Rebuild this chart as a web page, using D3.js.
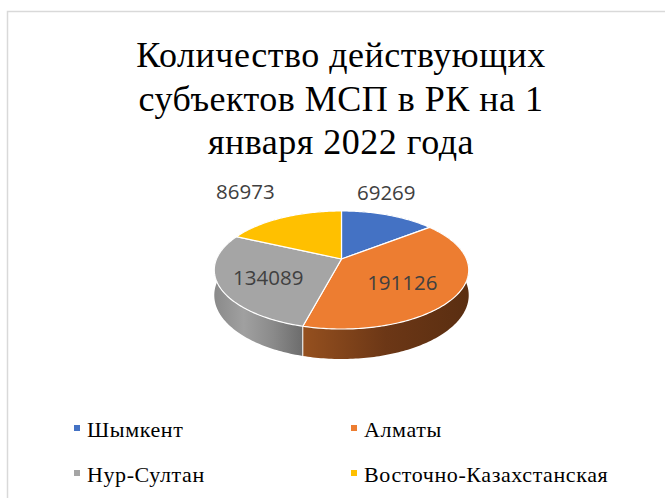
<!DOCTYPE html>
<html>
<head>
<meta charset="utf-8">
<script src="https://cdn.jsdelivr.net/npm/d3@7"></script>
<style>
  body { margin: 0; background: #fff; }
  #vis { width: 665px; height: 498px; }
</style>
</head>
<body>
<div id="vis"></div>
<script>
const titleLines = ["Количество действующих", "субъектов МСП в РК на 1", "января 2022 года"];
const categories = ["Шымкент", "Алматы", "Нур-Султан", "Восточно-Казахстанская"];
const values = [69269, 191126, 134089, 86973];
const colors = ["#4472c4", "#ed7d31", "#a5a5a5", "#ffc000"];
const sideStops = [
  ["#2f5597", "#203864"],
  ["#95501f", "#6c3716", "#5a2e11"],
  ["#8a8a8a", "#a0a0a0", "#8a8a8a", "#6c6c6c"],
  ["#bf9000", "#7f6000"]
];

const serif = "'Liberation Serif', Tinos, 'Times New Roman', 'DejaVu Serif', 'Noto Serif', serif";

const W = 665, H = 498;
const svg = d3.select("#vis").append("svg")
  .attr("width", W)
  .attr("height", H);

// frame
svg.append("rect")
  .attr("x", 7.5).attr("y", 11.5)
  .attr("width", W + 20).attr("height", H + 20)
  .attr("fill", "none")
  .attr("stroke", "#d9d9d9")
  .attr("stroke-width", 1.5);

// TITLE
svg.append("text")
  .attr("x", 341)
  .attr("y", 67)
  .attr("text-anchor", "middle")
  .style("font-family", serif)
  .style("font-size", "36px")
  .style("letter-spacing", "0.5px")
  .attr("fill", "#000")
  .selectAll("tspan")
  .data(titleLines)
  .enter()
  .append("tspan")
  .attr("x", 341)
  .attr("dy", (d, i) => i === 0 ? 0 : 43.5)
  .text(d => d);

// 3D PIE (perspective-projected disc)
const cx = 341.5, cy = 259, rx = 125, ry = 57, k = 0.186, depth = 24.4;

function project(theta, r, h) {
  const u = r * Math.sin(theta);
  const v = -r * Math.cos(theta);
  const s = 1 / (1 - k * v);
  return [cx + rx * u * s, cy + ry * v * s + h * depth * s];
}

function arcPoints(a0, a1, h) {
  const n = Math.max(2, Math.ceil((a1 - a0) / (Math.PI / 180)));
  return d3.range(n + 1).map(i => project(a0 + (a1 - a0) * i / n, 1, h));
}

const pie = d3.pie().sort(null).value(d => d)(values);
const defs = svg.append("defs");
const line = d3.line();

// side walls
const walls = svg.append("g");
pie.forEach((d, i) => {
  const top = arcPoints(d.startAngle, d.endAngle, 0);
  const bottom = arcPoints(d.startAngle, d.endAngle, 1).reverse();
  const pts = top.concat(bottom);
  const xs = d3.extent(pts, p => p[0]);
  const grad = defs.append("linearGradient")
    .attr("id", "side" + i)
    .attr("gradientUnits", "userSpaceOnUse")
    .attr("x1", xs[0]).attr("x2", xs[1])
    .attr("y1", 0).attr("y2", 0);
  sideStops[i].forEach((c, j, arr) => {
    grad.append("stop")
      .attr("offset", j / (arr.length - 1))
      .attr("stop-color", c);
  });
  walls.append("path")
    .attr("d", line(pts) + "Z")
    .attr("fill", `url(#side${i})`);
});

// wall separators
pie.forEach(d => {
  const a = project(d.startAngle, 1, 0);
  const b = project(d.startAngle, 1, 1);
  walls.append("line")
    .attr("x1", a[0]).attr("y1", a[1])
    .attr("x2", b[0]).attr("y2", b[1])
    .attr("stroke", "#fff")
    .attr("stroke-width", 1);
});

// top faces
svg.append("g")
  .selectAll("path")
  .data(pie)
  .enter()
  .append("path")
  .attr("d", d => line([[cx, cy]].concat(arcPoints(d.startAngle, d.endAngle, 0))) + "Z")
  .attr("fill", (d, i) => colors[i])
  .attr("stroke", "#fff")
  .attr("stroke-width", 1.2)
  .attr("stroke-linejoin", "round");

// DATA LABELS
const labelLayout = [
  { r: 1.0, dx: -2, dy: -15 },
  { r: 0.6, dx: -6, dy: 11 },
  { r: 0.6, dx: -2, dy: 11 },
  { r: 1.0, dx: -38, dy: -18 }
];

svg.append("g")
  .selectAll("text")
  .data(pie)
  .enter()
  .append("text")
  .attr("x", (d, i) => project((d.startAngle + d.endAngle) / 2, labelLayout[i].r, 0)[0] + labelLayout[i].dx)
  .attr("y", (d, i) => project((d.startAngle + d.endAngle) / 2, labelLayout[i].r, 0)[1] + labelLayout[i].dy)
  .attr("text-anchor", "middle")
  .style("font-family", "'Open Sans', sans-serif")
  .style("font-size", "20.5px")
  .attr("fill", "#404040")
  .text(d => d.data);

// LEGEND
const legend = svg.append("g");
categories.forEach((cat, i) => {
  const col = i % 2;
  const row = Math.floor(i / 2);
  const xOffset = col === 0 ? 74 : 351;
  const yOffset = 437 + row * 45;

  legend.append("rect")
    .attr("x", xOffset)
    .attr("y", yOffset - 12)
    .attr("width", 6)
    .attr("height", 6)
    .attr("fill", colors[i]);

  legend.append("text")
    .attr("x", xOffset + 13)
    .attr("y", yOffset)
    .style("font-family", serif)
    .style("font-size", "22px")
    .style("letter-spacing", "0.6px")
    .attr("fill", "#000")
    .text(cat);
});
</script>
</body>
</html>
